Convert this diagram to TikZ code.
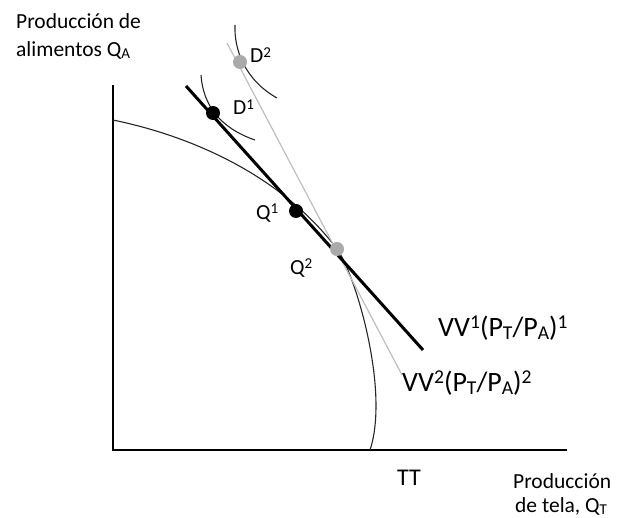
\documentclass[tikz,border=0pt]{standalone}
\usepackage{fontspec}
\setmainfont{Carlito}
\definecolor{lgray}{RGB}{190,190,190}
\definecolor{dgray}{RGB}{170,170,170}
\tikzset{
  axis/.style={line width=1.3pt, black},
  curve/.style={line width=1.1pt, black!85},
  vvone/.style={line width=3pt, black},
  vvtwo/.style={line width=1.2pt, lgray},
  bdot/.style={circle, fill=black, inner sep=0pt, minimum size=14pt},
  gdot/.style={circle, fill=dgray, inner sep=0pt, minimum size=14pt},
  lab/.style={inner sep=0pt, anchor=west, font=\fontsize{21.5}{25}\selectfont},
  biglab/.style={inner sep=0pt, anchor=west, font=\fontsize{28}{32}\selectfont},
}
\newcommand{\mysub}[1]{\raisebox{-0.25ex}{\scalebox{0.7}{#1}}}
\newcommand{\mysup}[1]{\raisebox{0.55ex}{\scalebox{0.7}{#1}}}
\begin{document}
\begin{tikzpicture}[x=1pt,y=-1pt]
\useasboundingbox (0,0) rectangle (618,518);
% axes
\coordinate (ytop) at (113,85);
\coordinate (orig) at (113,450);
\coordinate (xend) at (567,450);
\draw[axis] (ytop) -- (orig) -- (xend);
% TT curve
\draw[curve] (113,120) .. controls (200,138) and (285,180) .. (337,249)
   .. controls (355,273) and (390,390) .. (370,450);
% indifference curves
\draw[curve] (201,75) .. controls (203,105) and (220,128) .. (255,140);
\draw[curve] (235,25) .. controls (234,50) and (245,80) .. (277,98);
% lines
\coordinate (g1) at (227,43);
\coordinate (g2) at (402,375);
\coordinate (b1) at (186,86);
\coordinate (b2) at (423,350);
\draw[vvtwo] (g1) -- (g2);
\draw[vvone] (b1) -- (b2);
% dots
\node[bdot] (D1) at (213,113) {};
\node[bdot] (Q1) at (296,211) {};
\node[gdot] (D2) at (240,62) {};
\node[gdot] (Q2) at (337,249) {};
% labels
\node[lab] (la) at (16,21) {Producción de};
\node[lab] (lb) at (16,50) {alimentos Q\mysub{A}};
\node[lab] (ld2) at (250,55) {D\mysup{2}};
\node[lab] (ld1) at (233,107) {D\mysup{1}};
\node[lab] (lq1) at (256,213) {Q\mysup{1}};
\node[lab] (lq2) at (290,268) {Q\mysup{2}};
\node[biglab] (lv1) at (438,328) {VV\mysup{1}(P\mysub{T}/P\mysub{A})\mysup{1}};
\node[biglab] (lv2) at (402,383) {VV\mysup{2}(P\mysub{T}/P\mysub{A})\mysup{2}};
\node[lab, anchor=center, font=\fontsize{24}{28}\selectfont] (ltt) at (409,478) {TT};
\node[lab] (lx1) at (513,481) {Producción};
\node[lab] (lx2) at (515,506) {de tela, Q\mysub{T}};
\end{tikzpicture}
\end{document}
